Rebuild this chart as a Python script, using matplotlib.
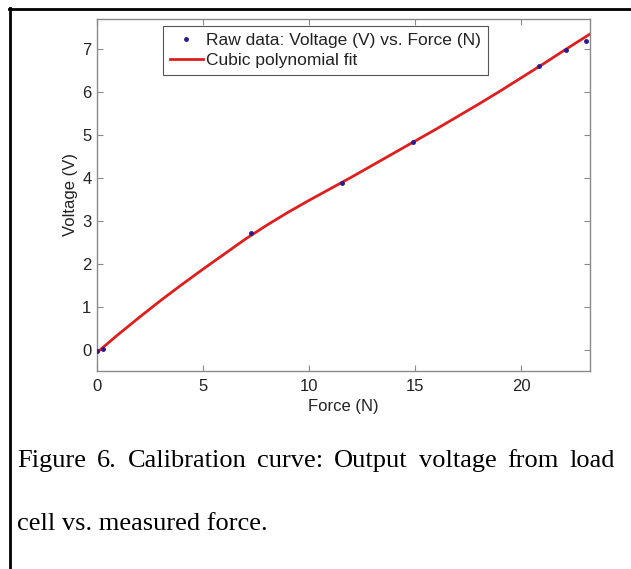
import numpy as np
import matplotlib
matplotlib.use("Agg")
import matplotlib.pyplot as plt
from matplotlib.lines import Line2D

# raw calibration points
force_raw = [0.0, 0.27, 7.25, 11.54, 14.89, 20.86, 22.10, 23.07]
volt_raw = [-0.03, 0.02, 2.71, 3.88, 4.83, 6.61, 6.98, 7.19]

# cubic fit curve, sampled from the figure
force_fit = [0, 1, 2, 3, 4, 5, 6, 7, 8, 9, 10, 11, 12, 13, 14, 15,
             16, 17, 18, 19, 20, 21, 22, 23.25]
volt_fit = [-0.06, 0.36, 0.76, 1.15, 1.52, 1.88, 2.23, 2.58, 2.90, 3.20,
            3.48, 3.75, 4.02, 4.30, 4.58, 4.86, 5.14, 5.43, 5.72, 6.02,
            6.33, 6.64, 6.96, 7.35]

x_ticks = [0, 5, 10, 15, 20]
y_ticks = [0, 1, 2, 3, 4, 5, 6, 7]

caption_1 = "Figure 6. Calibration curve: Output voltage from load"
caption_2 = "cell vs. measured force."

W, H = 631, 569
fig = plt.figure(figsize=(W / 100, H / 100), dpi=100)
plt.rcParams['font.family'] = ['Liberation Sans', 'DejaVu Sans']

ax = fig.add_axes([97 / W, 1 - 371 / H, (590 - 97) / W, (371 - 19) / H])
ax.plot(force_raw, volt_raw, '.', color='#2a1a8c', markersize=5,
        label='Raw data: Voltage (V) vs. Force (N)', zorder=3)
ax.plot(force_fit, volt_fit, '-', color='#e01e1e', linewidth=2,
        label='Cubic polynomial fit', zorder=2)

ax.set_xlim(0, 23.25)
ax.set_ylim(-0.49, 7.7)
ax.set_xticks(x_ticks)
ax.set_yticks(y_ticks)
for s in ax.spines.values():
    s.set_color('#8a8a8a')
    s.set_linewidth(1.0)
ax.tick_params(direction='in', length=4, width=0.8, color='#8a8a8a',
               top=True, right=True, labelsize=12, labelcolor='#222222')
ax.tick_params(axis='x', pad=6)
ax.tick_params(axis='y', pad=4)
ax.set_xlabel('Force (N)', fontsize=12, color='#222222', labelpad=3)
ax.set_ylabel('Voltage (V)', fontsize=12, color='#222222', labelpad=3)

leg = ax.legend(loc='upper left', bbox_to_anchor=(163 / W, 1 - 26 / H),
                bbox_transform=fig.transFigure, fontsize=12.5, frameon=True,
                fancybox=False, edgecolor='#555555', framealpha=1,
                handlelength=1.9, handletextpad=0.2, borderpad=0.4,
                labelspacing=0.3, borderaxespad=0, markerscale=1.0)
leg.get_frame().set_linewidth(0.8)
for t in leg.get_texts():
    t.set_color('#222222')

# outer frame (top and left)
fig.add_artist(Line2D([9 / W, 1], [1 - 9 / H, 1 - 9 / H], transform=fig.transFigure,
                      color='black', linewidth=2))
fig.add_artist(Line2D([10 / W, 10 / W], [0, 1 - 8 / H], transform=fig.transFigure,
                      color='black', linewidth=2))

# caption, first line justified between left and right edge
serif = ['Liberation Serif', 'DejaVu Serif']
cap_size = 19
x_left, x_right = 17, 615
words = caption_1.split(' ')
renderer = fig.canvas.get_renderer()
texts = []
for w in words:
    t = fig.text(0, 1 - 467 / H, w, family=serif, fontsize=cap_size,
                 color='black', va='baseline')
    texts.append(t)
widths = [t.get_window_extent(renderer).width for t in texts]
gap = (x_right - x_left - sum(widths)) / (len(words) - 1)
xpos = x_left
for t, wd in zip(texts, widths):
    t.set_x(xpos / W)
    xpos += wd + gap

fig.text(x_left / W, 1 - 530 / H, caption_2, family=serif, fontsize=cap_size,
         color='black', va='baseline')

fig.savefig('out.png', dpi=100, facecolor='white')
